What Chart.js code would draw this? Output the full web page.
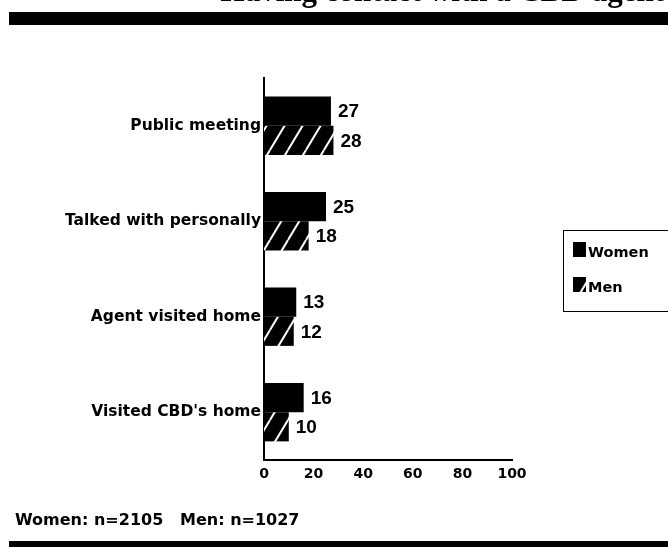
<!DOCTYPE html>
<html>
<head>
<meta charset="utf-8">
<title>Having contact with a CBD agent</title>
<script src="https://cdn.jsdelivr.net/npm/chart.js@4/dist/chart.umd.min.js"></script>
<style>
  html, body { margin: 0; padding: 0; background: #fff; }
  #wrap { width: 668px; height: 547px; position: relative; }
</style>
</head>
<body>
<div id="wrap"><canvas id="chart" width="668" height="547"></canvas></div>
<script>
// Contact types (top to bottom)
const categories = ['Public meeting', 'Talked with personally', 'Agent visited home', "Visited CBD's home"];
// Percent reporting each type of contact
const womenValues = [27, 25, 13, 16];
const menValues = [28, 18, 12, 10];
const seriesNames = ['Women', 'Men'];
// Horizontal axis
const xTicks = [0, 20, 40, 60, 80, 100];
const titleText = 'Having contact with a CBD agent';
const footnoteText = 'Women: n=2105   Men: n=1027';

// Black fill with white diagonal stripes for the second series
function stripePattern() {
  const c = document.createElement('canvas');
  c.width = 18; c.height = 30;
  const g = c.getContext('2d');
  g.fillStyle = '#000';
  g.fillRect(0, 0, 18, 30);
  g.strokeStyle = '#fff';
  g.lineWidth = 2;
  for (const dx of [-18, 0, 18]) {
    g.beginPath();
    g.moveTo(dx, 30);
    g.lineTo(dx + 18, 0);
    g.stroke();
  }
  return g.createPattern(c, 'repeat');
}
const menFill = stripePattern();

// Title, rules, footnote and boxed legend
const decorations = {
  id: 'decorations',
  afterDraw(chart) {
    const ctx = chart.ctx;
    ctx.save();
    ctx.fillStyle = '#000';
    ctx.font = 'bold 31px "Liberation Serif"';
    ctx.textAlign = 'right';
    ctx.textBaseline = 'alphabetic';
    ctx.fillText(titleText, 664, 0.5);

    ctx.fillRect(9, 12, 659, 13);
    ctx.fillRect(9, 541, 659, 6);

    ctx.textAlign = 'left';
    ctx.font = 'bold 16px "DejaVu Sans"';
    ctx.fillText(footnoteText, 15, 525);

    // legend box
    ctx.strokeStyle = '#000';
    ctx.lineWidth = 1;
    ctx.strokeRect(563.5, 230.5, 130, 81);
    ctx.font = 'bold 14.5px "DejaVu Sans"';
    const rows = [242, 277];
    chart.data.datasets.forEach((ds, i) => {
      ctx.fillStyle = ds.backgroundColor;
      ctx.fillRect(573, rows[i], 13, 15);
      ctx.fillStyle = '#000';
      ctx.fillText(ds.label, 588, rows[i] + 15);
    });
    ctx.restore();
  }
};

// Value labels at the end of each bar
const valueLabels = {
  id: 'valueLabels',
  afterDatasetsDraw(chart) {
    const ctx = chart.ctx;
    ctx.save();
    ctx.fillStyle = '#000';
    ctx.font = 'bold 19px "Liberation Sans"';
    ctx.textAlign = 'left';
    ctx.textBaseline = 'middle';
    chart.data.datasets.forEach((ds, i) => {
      chart.getDatasetMeta(i).data.forEach((bar, j) => {
        ctx.fillText(String(ds.data[j]), bar.x + 7, bar.y + 1);
      });
    });
    ctx.restore();
  }
};

new Chart(document.getElementById('chart'), {
  type: 'bar',
  data: {
    labels: categories,
    datasets: [
      { label: seriesNames[0], data: womenValues, backgroundColor: '#000', borderWidth: 0 },
      { label: seriesNames[1], data: menValues, backgroundColor: menFill, borderWidth: 0 }
    ]
  },
  options: {
    indexAxis: 'y',
    responsive: false,
    animation: false,
    devicePixelRatio: 1,
    categoryPercentage: 0.61,
    barPercentage: 1.0,
    layout: { padding: { top: 78, right: 156, bottom: 0, left: 0 } },
    plugins: {
      legend: { display: false },
      title: { display: false },
      tooltip: { enabled: false }
    },
    scales: {
      x: {
        min: 0,
        max: 100,
        afterBuildTicks(scale) { scale.ticks = xTicks.map(v => ({ value: v })); },
        afterFit(scale) { scale.height = 87; },
        grid: { display: false, drawTicks: false },
        border: { display: true, color: '#000', width: 2 },
        ticks: {
          color: '#000',
          padding: 6,
          font: { family: 'DejaVu Sans', size: 14, weight: 'bold' }
        }
      },
      y: {
        afterFit(scale) { scale.width = 264; },
        grid: { display: false, drawTicks: false },
        border: { display: true, color: '#000', width: 2 },
        ticks: {
          color: '#000',
          padding: 3,
          font: { family: 'DejaVu Sans', size: 15.5, weight: 'bold' }
        }
      }
    }
  },
  plugins: [valueLabels, decorations]
});
</script>
</body>
</html>
